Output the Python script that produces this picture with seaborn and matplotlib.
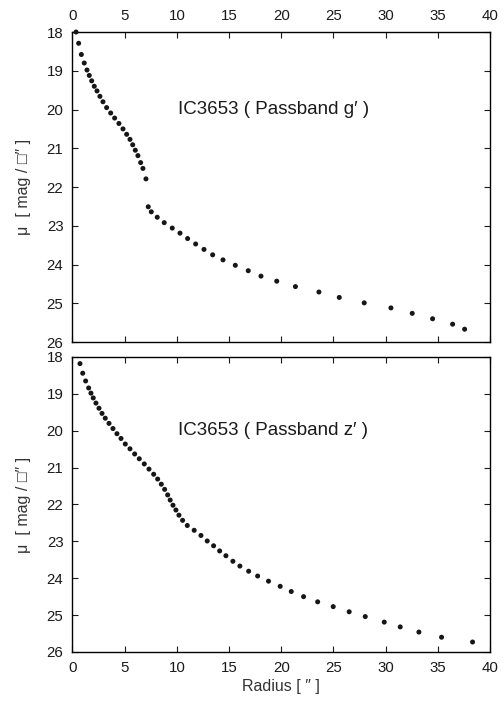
import matplotlib
matplotlib.use("Agg")
import matplotlib.pyplot as plt
import seaborn as sns
import pandas as pd

# ---- data ----
g_radius = [0.34, 0.59, 0.85, 1.13, 1.39, 1.61, 1.84, 2.09, 2.35, 2.63, 2.92, 3.27,
            3.66, 4.04, 4.45, 4.84, 5.19, 5.51, 5.77, 6.02, 6.27, 6.53, 6.75, 7.04,
            7.26, 7.55, 8.12, 8.79, 9.56, 10.30, 11.03, 11.80, 12.60, 13.43, 14.42,
            15.60, 16.84, 18.06, 19.57, 21.36, 23.61, 25.56, 27.95, 30.51, 32.55,
            34.50, 36.42, 37.57]
g_mu = [18.00, 18.29, 18.58, 18.80, 18.98, 19.12, 19.26, 19.40, 19.52, 19.66, 19.80,
        19.95, 20.09, 20.22, 20.36, 20.50, 20.64, 20.77, 20.91, 21.05, 21.19, 21.37,
        21.52, 21.79, 22.51, 22.64, 22.78, 22.92, 23.06, 23.19, 23.33, 23.47, 23.61,
        23.75, 23.88, 24.02, 24.16, 24.30, 24.43, 24.57, 24.71, 24.85, 24.99, 25.12,
        25.26, 25.40, 25.54, 25.67]

z_radius = [0.72, 0.98, 1.26, 1.55, 1.77, 1.99, 2.25, 2.54, 2.83, 3.14, 3.50, 3.88,
            4.26, 4.65, 5.06, 5.51, 5.96, 6.40, 6.88, 7.33, 7.78, 8.16, 8.51, 8.83,
            9.12, 9.36, 9.63, 9.91, 10.20, 10.55, 11.00, 11.66, 12.31, 12.91, 13.52,
            14.10, 14.70, 15.37, 16.04, 16.88, 17.74, 18.78, 19.90, 20.96, 22.14,
            23.49, 24.98, 26.51, 28.05, 29.87, 31.40, 33.19, 35.36, 38.33]
z_mu = [18.18, 18.44, 18.65, 18.84, 18.98, 19.11, 19.25, 19.39, 19.53, 19.66, 19.80,
        19.94, 20.08, 20.21, 20.36, 20.49, 20.63, 20.76, 20.90, 21.04, 21.18, 21.31,
        21.45, 21.59, 21.74, 21.88, 22.02, 22.15, 22.29, 22.43, 22.57, 22.70, 22.84,
        22.99, 23.12, 23.26, 23.39, 23.54, 23.67, 23.81, 23.94, 24.08, 24.22, 24.36,
        24.50, 24.64, 24.77, 24.91, 25.04, 25.19, 25.32, 25.46, 25.60, 25.73]

x_ticks = [0, 5, 10, 15, 20, 25, 30, 35, 40]
y_ticks = [18, 19, 20, 21, 22, 23, 24, 25, 26]
panel_titles = ["IC3653 ( Passband g\u2032 )", "IC3653 ( Passband z\u2032 )"]
y_label = "\u03bc  [ mag / \u25a1\u2033 ]"
x_label = "Radius [ \u2033 ]"

sns.set_style("ticks")
plt.rcParams["font.family"] = ["Liberation Sans", "DejaVu Sans"]

fig = plt.figure(figsize=(5.04, 7.04), dpi=100)
ax_top = fig.add_axes([0.1438, 0.5142, 0.8284, 0.4403])
ax_bot = fig.add_axes([0.1438, 0.0739, 0.8284, 0.4190])

df_g = pd.DataFrame({"r": g_radius, "mu": g_mu})
df_z = pd.DataFrame({"r": z_radius, "mu": z_mu})

for ax, df, title, top in [(ax_top, df_g, panel_titles[0], True),
                           (ax_bot, df_z, panel_titles[1], False)]:
    sns.scatterplot(data=df, x="r", y="mu", ax=ax, s=13, color="#161616",
                    edgecolor="none", linewidth=0, clip_on=False, zorder=3)
    ax.set_xlim(0, 40)
    ax.set_ylim(26, 18)
    ax.set_xticks(x_ticks)
    ax.set_yticks(y_ticks)
    ax.set_xticklabels([str(t) for t in x_ticks])
    ax.set_yticklabels([str(t) for t in y_ticks])
    for sp in ax.spines.values():
        sp.set_visible(True)
        sp.set_linewidth(1.0)
        sp.set_color("black")
    ax.tick_params(axis="both", direction="in", length=4, width=0.8,
                   labelsize=10.8, pad=6.5, colors="#1a1a1a",
                   top=True, right=True, left=True, bottom=True)
    if top:
        ax.tick_params(axis="x", labeltop=True, labelbottom=False)
        ax.set_xlabel("")
    else:
        ax.tick_params(axis="x", labeltop=False, labelbottom=True)
        ax.set_xlabel(x_label, fontsize=11.5, labelpad=3, color="#333333")
    ax.set_ylabel(y_label, fontsize=11.5, labelpad=11, color="#333333")
    ax.text(10.1, 20.0, title, fontsize=13.5, ha="left", va="center",
            color="#1a1a1a")

fig.savefig("out.png", dpi=100)
